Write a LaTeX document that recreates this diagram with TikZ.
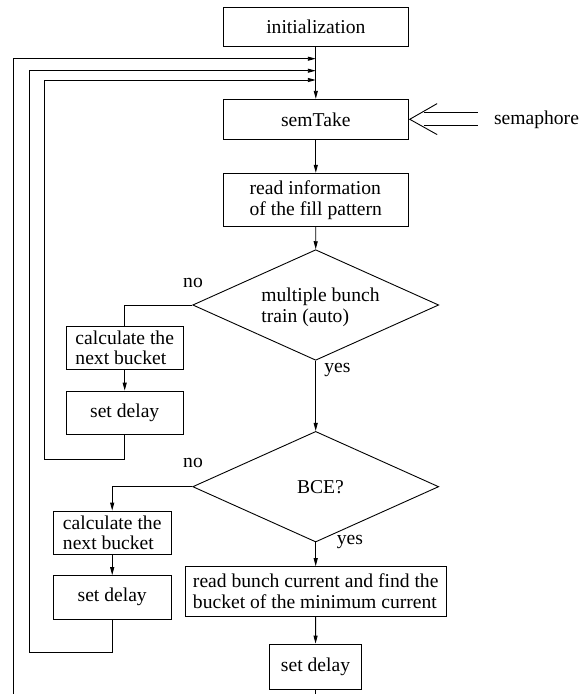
\documentclass[tikz,border=0pt]{standalone}
\usepackage{fontspec}
\setmainfont{Liberation Serif}
\newfontfamily\tnr{Liberation Serif}
\usetikzlibrary{arrows.meta,shapes.geometric}
\begin{document}
\begin{tikzpicture}[x=1bp,y=-1bp,
  every node/.style={font=\tnr\fontsize{19.6bp}{20.7bp}\selectfont, inner sep=0pt},
  box/.style={draw, line width=0.9bp, align=left},
  dia/.style={draw, diamond, line width=0.9bp, minimum width=246bp, minimum height=110.6bp},
  lbl/.style={anchor=base},
  conn/.style={line width=0.9bp},
  arr/.style={conn, -{Triangle[length=8bp,width=4bp]}}]
\useasboundingbox (0,0) rectangle (585,694);
% main column
\node[box, minimum width=185bp, minimum height=39.4bp] (init) at (315.8,27) {initialization};
\node[box, minimum width=185bp, minimum height=40bp] (sem) at (315.8,119.3) {semTake};
\node[box, minimum width=185bp, minimum height=53.4bp] (info) at (315.8,200) {read information\\of the fill pattern};
\node[dia] (d1) at (315.7,305) {};
\node[align=left] (d1t) at (320.5,307) {multiple bunch\\train (auto)};
\node[dia] (d2) at (315.7,486.7) {};
\node (d2t) at (320.5,487) {BCE?};
\node[box, minimum width=261.4bp, minimum height=49.3bp] (rb) at (315.7,591.3) {read bunch current and find the\\bucket of the minimum current};
\node[box, minimum width=92.4bp, minimum height=45.3bp] (sd3) at (315.5,666.7) {set delay};
% left branch 1
\node[box, minimum width=117.3bp, minimum height=43.3bp] (c1) at (124.7,347.7) {calculate the\\next bucket};
\node[box, minimum width=117.3bp, minimum height=43.3bp] (sd1) at (124.7,412.7) {set delay};
% left branch 2
\node[box, minimum width=117.7bp, minimum height=43.3bp] (c2) at (112.2,532.7) {calculate the\\next bucket};
\node[box, minimum width=117.7bp, minimum height=43.3bp] (sd2) at (112.2,597.3) {set delay};
% labels
\node[lbl] (no1) at (193,287.7) {no};
\node[lbl] (yes1) at (337.5,372.7) {yes};
\node[lbl] (no2) at (193,467.7) {no};
\node[lbl] (yes2) at (350,544.4) {yes};
\node[lbl] (semtxt) at (536.5,124.5) {semaphore};
% junction coordinates on the main line
\coordinate (j1) at (init.south |- 0,58.7);
\coordinate (j2) at (init.south |- 0,70.7);
\coordinate (j3) at (init.south |- 0,80);
\coordinate (bot3) at (13.7,694);
\coordinate (botm) at (sd3.south |- 0,694);
% main flow
\draw[arr] (init) -- (sem);
\draw[arr] (sem) -- (info);
\draw[arr] (info) -- (d1.north);
\draw[arr] (d1.south) -- (d2.north);
\draw[arr] (d2.south) -- (rb);
\draw[arr] (rb) -- (sd3);
\draw[conn] (sd3) -- (botm);
% branch 1
\draw[conn] (d1.west) -| (c1.north);
\draw[arr] (c1) -- (sd1);
\draw[arr] (sd1.south) -- (124.7,459) -- (44,459) -- (44,80) -- (j3);
% branch 2
\draw[arr] (d2.west) -| (c2.north);
\draw[arr] (c2) -- (sd2);
\draw[arr] (sd2.south) -- (112.2,652.7) -- (29.3,652.7) -- (29.3,70.7) -- (j2);
% outer loop
\draw[arr] (bot3) -- (13.7,58.7) -- (j1);
% semaphore input
\draw[conn] ([xshift=15bp,yshift=-6bp]sem.east) -- ([xshift=69.5bp,yshift=-6bp]sem.east);
\draw[conn] ([xshift=15bp,yshift=6.7bp]sem.east) -- ([xshift=69.5bp,yshift=6.7bp]sem.east);
\draw[conn] ([xshift=28.4bp,yshift=-15.3bp]sem.east) -- ([xshift=1bp]sem.east) -- ([xshift=28.4bp,yshift=15.7bp]sem.east);
\end{tikzpicture}
\end{document}
